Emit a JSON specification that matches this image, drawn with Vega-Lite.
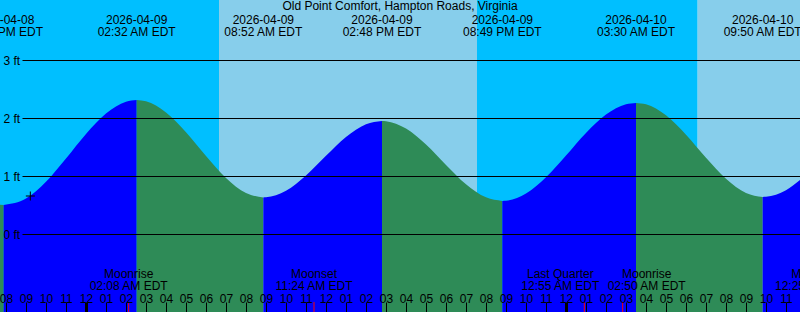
{
  "$schema": "https://vega.github.io/schema/vega-lite/v6.json",
  "width": 800,
  "height": 312,
  "padding": 0,
  "autosize": {"type": "none"},
  "title": {"text": "Old Point Comfort, Hampton Roads, Virginia", "anchor": "middle", "frame": "group", "baseline": "alphabetic", "offset": 0, "dy": 22, "fontSize": 12, "fontWeight": "normal", "font": "Liberation Sans", "color": "black"},
  "config": {"view": {"stroke": null}, "font": "Liberation Sans"},
  "resolve": {"scale": {"color": "independent"}, "axis": {"x": "independent", "y": "independent"}},
  "layer": [
    {
      "data": {
        "values": [
          {"start": "2026-04-08 19:32", "end": "2026-04-09 06:39", "period": "night"},
          {"start": "2026-04-09 06:39", "end": "2026-04-09 19:33", "period": "day"},
          {"start": "2026-04-09 19:33", "end": "2026-04-10 06:35", "period": "night"},
          {"start": "2026-04-10 06:35", "end": "2026-04-10 19:34", "period": "day"}
        ],
        "format": {"parse": {"start": "utc:'%Y-%m-%d %H:%M'", "end": "utc:'%Y-%m-%d %H:%M'"}}
      },
      "mark": {"type": "rect", "clip": true},
      "encoding": {
        "x": {"field": "start", "type": "temporal", "axis": null,
              "scale": {"type": "utc", "domain": [{"year": 2026, "month": 4, "date": 8, "hours": 19, "minutes": 42, "utc": true}, {"year": 2026, "month": 4, "date": 10, "hours": 11, "minutes": 42, "utc": true}]}},
        "x2": {"field": "end"},
        "color": {"field": "period", "type": "nominal", "legend": null,
                  "scale": {"domain": ["night", "day"], "range": ["#00BFFF", "#87CEEB"]}}
      }
    },
    {
      "data": {
        "values": [
          {"t": "2026-04-08 19:42", "v": 0.505, "seg": 0, "phase": "falling"},
          {"t": "2026-04-08 19:53", "v": 0.5, "seg": 0, "phase": "falling"},
          {"t": "2026-04-08 19:53", "v": 0.5, "seg": 1, "phase": "rising"},
          {"t": "2026-04-08 21:00", "v": 0.611, "seg": 1, "phase": "rising"},
          {"t": "2026-04-08 22:00", "v": 0.9, "seg": 1, "phase": "rising"},
          {"t": "2026-04-08 23:00", "v": 1.301, "seg": 1, "phase": "rising"},
          {"t": "2026-04-09 00:00", "v": 1.725, "seg": 1, "phase": "rising"},
          {"t": "2026-04-09 01:00", "v": 2.078, "seg": 1, "phase": "rising"},
          {"t": "2026-04-09 02:00", "v": 2.281, "seg": 1, "phase": "rising"},
          {"t": "2026-04-09 02:32", "v": 2.31, "seg": 1, "phase": "rising"},
          {"t": "2026-04-09 02:32", "v": 2.31, "seg": 2, "phase": "falling"},
          {"t": "2026-04-09 03:00", "v": 2.287, "seg": 2, "phase": "falling"},
          {"t": "2026-04-09 04:00", "v": 2.097, "seg": 2, "phase": "falling"},
          {"t": "2026-04-09 05:00", "v": 1.756, "seg": 2, "phase": "falling"},
          {"t": "2026-04-09 06:00", "v": 1.346, "seg": 2, "phase": "falling"},
          {"t": "2026-04-09 07:00", "v": 0.966, "seg": 2, "phase": "falling"},
          {"t": "2026-04-09 08:00", "v": 0.706, "seg": 2, "phase": "falling"},
          {"t": "2026-04-09 08:52", "v": 0.63, "seg": 2, "phase": "falling"},
          {"t": "2026-04-09 08:52", "v": 0.63, "seg": 3, "phase": "rising"},
          {"t": "2026-04-09 09:00", "v": 0.632, "seg": 3, "phase": "rising"},
          {"t": "2026-04-09 10:00", "v": 0.745, "seg": 3, "phase": "rising"},
          {"t": "2026-04-09 11:00", "v": 1.008, "seg": 3, "phase": "rising"},
          {"t": "2026-04-09 12:00", "v": 1.348, "seg": 3, "phase": "rising"},
          {"t": "2026-04-09 13:00", "v": 1.672, "seg": 3, "phase": "rising"},
          {"t": "2026-04-09 14:00", "v": 1.892, "seg": 3, "phase": "rising"},
          {"t": "2026-04-09 14:48", "v": 1.95, "seg": 3, "phase": "rising"},
          {"t": "2026-04-09 14:48", "v": 1.95, "seg": 4, "phase": "falling"},
          {"t": "2026-04-09 15:00", "v": 1.946, "seg": 4, "phase": "falling"},
          {"t": "2026-04-09 16:00", "v": 1.819, "seg": 4, "phase": "falling"},
          {"t": "2026-04-09 17:00", "v": 1.543, "seg": 4, "phase": "falling"},
          {"t": "2026-04-09 18:00", "v": 1.191, "seg": 4, "phase": "falling"},
          {"t": "2026-04-09 19:00", "v": 0.858, "seg": 4, "phase": "falling"},
          {"t": "2026-04-09 20:00", "v": 0.632, "seg": 4, "phase": "falling"},
          {"t": "2026-04-09 20:49", "v": 0.57, "seg": 4, "phase": "falling"},
          {"t": "2026-04-09 20:49", "v": 0.57, "seg": 5, "phase": "rising"},
          {"t": "2026-04-09 21:00", "v": 0.573, "seg": 5, "phase": "rising"},
          {"t": "2026-04-09 22:00", "v": 0.698, "seg": 5, "phase": "rising"},
          {"t": "2026-04-09 23:00", "v": 0.977, "seg": 5, "phase": "rising"},
          {"t": "2026-04-10 00:00", "v": 1.352, "seg": 5, "phase": "rising"},
          {"t": "2026-04-10 01:00", "v": 1.741, "seg": 5, "phase": "rising"},
          {"t": "2026-04-10 02:00", "v": 2.059, "seg": 5, "phase": "rising"},
          {"t": "2026-04-10 03:00", "v": 2.237, "seg": 5, "phase": "rising"},
          {"t": "2026-04-10 03:30", "v": 2.26, "seg": 5, "phase": "rising"},
          {"t": "2026-04-10 03:30", "v": 2.26, "seg": 6, "phase": "falling"},
          {"t": "2026-04-10 04:00", "v": 2.235, "seg": 6, "phase": "falling"},
          {"t": "2026-04-10 05:00", "v": 2.046, "seg": 6, "phase": "falling"},
          {"t": "2026-04-10 06:00", "v": 1.713, "seg": 6, "phase": "falling"},
          {"t": "2026-04-10 07:00", "v": 1.316, "seg": 6, "phase": "falling"},
          {"t": "2026-04-10 08:00", "v": 0.953, "seg": 6, "phase": "falling"},
          {"t": "2026-04-10 09:00", "v": 0.708, "seg": 6, "phase": "falling"},
          {"t": "2026-04-10 09:50", "v": 0.64, "seg": 6, "phase": "falling"},
          {"t": "2026-04-10 09:50", "v": 0.64, "seg": 7, "phase": "rising"},
          {"t": "2026-04-10 10:00", "v": 0.642, "seg": 7, "phase": "rising"},
          {"t": "2026-04-10 11:00", "v": 0.755, "seg": 7, "phase": "rising"},
          {"t": "2026-04-10 11:42", "v": 0.93, "seg": 7, "phase": "rising"}
        ],
        "format": {"parse": {"t": "utc:'%Y-%m-%d %H:%M'"}}
      },
      "mark": {"type": "area", "interpolate": "monotone"},
      "encoding": {
        "x": {"field": "t", "type": "temporal",
              "scale": {"type": "utc", "domain": [{"year": 2026, "month": 4, "date": 8, "hours": 19, "minutes": 42, "utc": true}, {"year": 2026, "month": 4, "date": 10, "hours": 11, "minutes": 42, "utc": true}]},
              "axis": {"orient": "bottom", "title": null, "grid": false, "domain": false, "ticks": true, "tickSize": -10, "tickColor": "black",
                       "tickWidth": {"condition": {"test": "utchours(datum.value) === 0", "value": 3}, "value": 1},
                       "tickCount": 40,
                       "labelExpr": "utcFormat(datum.value, '%I')", "labelPadding": 0, "labelBaseline": "alphabetic",
                       "labelFont": "Liberation Sans", "labelFontSize": 12, "labelColor": "black",
                       "labelFlush": false, "labelOverlap": false, "labelBound": false, "zindex": 1}},
        "y": {"field": "v", "type": "quantitative", "stack": null,
              "scale": {"domain": [-1.3448, 4.0345], "nice": false, "zero": false},
              "axis": {"orient": "right", "title": null, "grid": false, "domain": false, "offset": 0,
                       "values": [0, 1, 2, 3], "ticks": true, "tickSize": -778, "tickColor": "black", "tickWidth": 1,
                       "labels": false, "zindex": 1}},
        "y2": {"datum": -1.3448},
        "color": {"field": "phase", "type": "nominal", "legend": null,
                  "scale": {"domain": ["rising", "falling"], "range": ["#0000FF", "#2E8B57"]}},
        "detail": {"field": "seg", "type": "nominal"}
      }
    },
    {
      "data": {
        "values": [
          {"t": "2026-04-09 02:08", "event": "Moonrise", "time": "02:08 AM EDT"},
          {"t": "2026-04-09 11:24", "event": "Moonset", "time": "11:24 AM EDT"},
          {"t": "2026-04-10 00:55", "event": "Last Quarter", "time": "12:55 AM EDT"},
          {"t": "2026-04-10 02:50", "event": "Moonrise", "time": "02:50 AM EDT"},
          {"t": "2026-04-10 12:25", "event": "Moonset", "time": "12:25 PM EDT"}
        ],
        "format": {"parse": {"t": "utc:'%Y-%m-%d %H:%M'"}}
      },
      "encoding": {
        "x": {"field": "t", "type": "temporal", "axis": null}
      },
      "layer": [
        {
          "mark": {"type": "rule", "color": "#FF0000", "strokeWidth": 1},
          "encoding": {
            "y": {"datum": -1.172, "type": "quantitative", "axis": null},
            "y2": {"datum": -1.3448}
          }
        },
        {
          "transform": [{"filter": "datum.event !== 'Last Quarter' && datum.time !== '02:50 AM EDT'"}],
          "layer": [
            {"mark": {"type": "text", "baseline": "alphabetic", "fontSize": 12, "font": "Liberation Sans", "color": "black"},
             "encoding": {"y": {"datum": -0.75, "type": "quantitative", "axis": null}, "text": {"field": "event"}}},
            {"mark": {"type": "text", "baseline": "alphabetic", "fontSize": 12, "font": "Liberation Sans", "color": "black"},
             "encoding": {"y": {"datum": -0.957, "type": "quantitative", "axis": null}, "text": {"field": "time"}}}
          ]
        },
        {
          "transform": [{"filter": "datum.event === 'Last Quarter'"}],
          "layer": [
            {"mark": {"type": "text", "baseline": "alphabetic", "fontSize": 12, "font": "Liberation Sans", "color": "black", "dx": -24},
             "encoding": {"y": {"datum": -0.75, "type": "quantitative", "axis": null}, "text": {"field": "event"}}},
            {"mark": {"type": "text", "baseline": "alphabetic", "fontSize": 12, "font": "Liberation Sans", "color": "black", "dx": -24},
             "encoding": {"y": {"datum": -0.957, "type": "quantitative", "axis": null}, "text": {"field": "time"}}}
          ]
        },
        {
          "transform": [{"filter": "datum.time === '02:50 AM EDT'"}],
          "layer": [
            {"mark": {"type": "text", "baseline": "alphabetic", "fontSize": 12, "font": "Liberation Sans", "color": "black", "dx": 24},
             "encoding": {"y": {"datum": -0.75, "type": "quantitative", "axis": null}, "text": {"field": "event"}}},
            {"mark": {"type": "text", "baseline": "alphabetic", "fontSize": 12, "font": "Liberation Sans", "color": "black", "dx": 24},
             "encoding": {"y": {"datum": -0.957, "type": "quantitative", "axis": null}, "text": {"field": "time"}}}
          ]
        }
      ]
    },
    {
      "data": {
        "values": [{"t": "2026-04-08 21:13", "v": 0.655}],
        "format": {"parse": {"t": "utc:'%Y-%m-%d %H:%M'"}}
      },
      "mark": {"type": "point", "shape": "M-1,0H1M0,-1V1", "filled": false, "color": "black", "strokeWidth": 1, "size": 81, "opacity": 1},
      "encoding": {
        "x": {"field": "t", "type": "temporal", "axis": null},
        "y": {"field": "v", "type": "quantitative",
              "axis": {"orient": "left", "title": null, "grid": false, "domain": false, "ticks": false, "offset": 0,
                       "values": [0, 1, 2, 3], "labelExpr": "datum.value + ' ft'", "labelAlign": "left", "labelBaseline": "middle", "labelPadding": -3,
                       "labelFont": "Liberation Sans", "labelFontSize": 12, "labelColor": "black",
                       "labelFlush": false, "labelOverlap": false, "labelBound": false, "zindex": 1}}
      }
    },
    {
      "data": {
        "values": [
          {"t": "2026-04-08 19:53", "level": "low", "date": "2026-04-08", "time": "07:53 PM EDT"},
          {"t": "2026-04-09 02:32", "level": "high", "date": "2026-04-09", "time": "02:32 AM EDT"},
          {"t": "2026-04-09 08:52", "level": "low", "date": "2026-04-09", "time": "08:52 AM EDT"},
          {"t": "2026-04-09 14:48", "level": "high", "date": "2026-04-09", "time": "02:48 PM EDT"},
          {"t": "2026-04-09 20:49", "level": "low", "date": "2026-04-09", "time": "08:49 PM EDT"},
          {"t": "2026-04-10 03:30", "level": "high", "date": "2026-04-10", "time": "03:30 AM EDT"},
          {"t": "2026-04-10 09:50", "level": "low", "date": "2026-04-10", "time": "09:50 AM EDT"}
        ],
        "format": {"parse": {"t": "utc:'%Y-%m-%d %H:%M'"}}
      },
      "encoding": {
        "x": {"field": "t", "type": "temporal", "axis": null}
      },
      "layer": [
        {"mark": {"type": "text", "baseline": "alphabetic", "fontSize": 12, "font": "Liberation Sans", "color": "black"},
         "encoding": {"y": {"datum": 3.621, "type": "quantitative", "axis": null}, "text": {"field": "date"}}},
        {"mark": {"type": "text", "baseline": "alphabetic", "fontSize": 12, "font": "Liberation Sans", "color": "black"},
         "encoding": {"y": {"datum": 3.414, "type": "quantitative", "axis": null}, "text": {"field": "time"}}}
      ]
    }
  ]
}
